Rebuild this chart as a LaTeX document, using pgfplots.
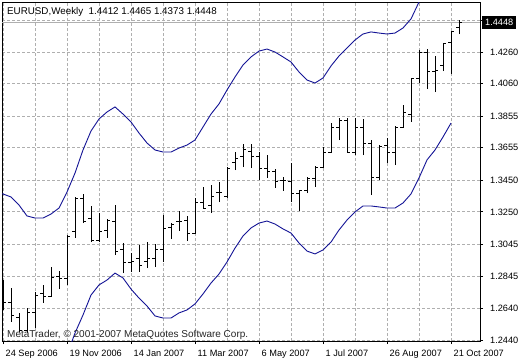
\documentclass[border=0pt]{standalone}
\usepackage{pgfplots}
\pgfplotsset{compat=1.18}
\usepackage{pgfplotstable}
\usepackage{fontspec}
\setmainfont{Liberation Sans}
\definecolor{band}{RGB}{20,20,150}
\definecolor{gridc}{RGB}{175,175,175}

\pgfplotstableread{
i O H L C
0 1.2756 1.2819 1.2630 1.2674
1 1.2680 1.2769 1.2554 1.2598
2 1.2585 1.2611 1.2491 1.2503
3 1.2503 1.2642 1.2484 1.2611
4 1.2611 1.2743 1.2516 1.2724
5 1.2731 1.2788 1.2674 1.2718
6 1.2718 1.2901 1.2712 1.2838
7 1.2844 1.2876 1.2762 1.2826
8 1.2826 1.3104 1.2788 1.3091
9 1.3123 1.3344 1.3085 1.3337
10 1.3337 1.3363 1.3179 1.3192
11 1.3211 1.3287 1.3059 1.3066
12 1.3072 1.3243 1.3059 1.3123
13 1.3135 1.3205 1.3085 1.3198
14 1.3186 1.3293 1.2977 1.3002
15 1.3009 1.3053 1.2863 1.2927
16 1.2927 1.2990 1.2870 1.2933
17 1.2958 1.3040 1.2870 1.2914
18 1.2933 1.3059 1.2895 1.2958
19 1.2958 1.3047 1.2901 1.3009
20 1.3015 1.3230 1.2933 1.3142
21 1.3154 1.3179 1.3078 1.3167
22 1.3186 1.3255 1.3129 1.3192
23 1.3198 1.3224 1.3066 1.3110
24 1.3110 1.3337 1.3110 1.3312
25 1.3312 1.3407 1.3268 1.3274
26 1.3287 1.3420 1.3243 1.3344
27 1.3375 1.3439 1.3312 1.3375
28 1.3344 1.3533 1.3337 1.3527
29 1.3559 1.3628 1.3514 1.3590
30 1.3597 1.3679 1.3533 1.3647
31 1.3634 1.3679 1.3527 1.3597
32 1.3597 1.3628 1.3451 1.3521
33 1.3521 1.3609 1.3464 1.3508
34 1.3508 1.3521 1.3401 1.3439
35 1.3445 1.3470 1.3382 1.3445
36 1.3439 1.3559 1.3312 1.3363
37 1.3363 1.3388 1.3255 1.3388
38 1.3388 1.3470 1.3369 1.3458
39 1.3458 1.3540 1.3407 1.3533
40 1.3533 1.3660 1.3527 1.3622
41 1.3622 1.3811 1.3622 1.3780
42 1.3780 1.3843 1.3704 1.3830
43 1.3830 1.3843 1.3622 1.3628
44 1.3622 1.3843 1.3609 1.3780
45 1.3780 1.3837 1.3609 1.3685
46 1.3685 1.3704 1.3356 1.3470
47 1.3470 1.3672 1.3451 1.3666
48 1.3672 1.3717 1.3559 1.3622
49 1.3622 1.3792 1.3546 1.3780
50 1.3780 1.3925 1.3780 1.3875
51 1.3868 1.4090 1.3818 1.4090
52 1.4090 1.4273 1.4064 1.4260
53 1.4260 1.4279 1.4026 1.4134
54 1.4134 1.4235 1.4007 1.4146
55 1.4172 1.4317 1.4140 1.4317
56 1.4323 1.4393 1.4121 1.4387
57 1.4412 1.4465 1.4373 1.4448
}\bars

\pgfplotstableread{
i up lo
-1 1.3375 1.2390
0 1.3363 1.2377
1 1.3344 1.2364
2 1.3293 1.2339
3 1.3224 1.2314
4 1.3211 1.2301
5 1.3211 1.2288
6 1.3236 1.2276
7 1.3274 1.2288
8 1.3375 1.2345
9 1.3495 1.2484
10 1.3641 1.2598
11 1.3761 1.2724
12 1.3837 1.2788
13 1.3881 1.2819
14 1.3913 1.2863
15 1.3868 1.2832
16 1.3818 1.2762
17 1.3748 1.2705
18 1.3685 1.2655
19 1.3641 1.2592
20 1.3628 1.2579
21 1.3628 1.2579
22 1.3653 1.2611
23 1.3672 1.2630
24 1.3704 1.2668
25 1.3786 1.2731
26 1.3868 1.2800
27 1.3932 1.2857
28 1.4020 1.2933
29 1.4102 1.3021
30 1.4178 1.3097
31 1.4229 1.3148
32 1.4266 1.3179
33 1.4279 1.3192
34 1.4260 1.3173
35 1.4229 1.3142
36 1.4197 1.3116
37 1.4134 1.3053
38 1.4083 1.3002
39 1.4064 1.2984
40 1.4096 1.3009
41 1.4172 1.3059
42 1.4235 1.3135
43 1.4285 1.3198
44 1.4336 1.3249
45 1.4374 1.3287
46 1.4387 1.3287
47 1.4380 1.3281
48 1.4374 1.3274
49 1.4380 1.3274
50 1.4412 1.3306
51 1.4469 1.3363
52 1.4576 1.3464
53 1.4665 1.3578
54 1.4740 1.3641
55 1.4804 1.3723
56 1.4861 1.3811
}\bands

\begin{document}
\begin{tikzpicture}[x=1pt,y=1pt]
\fill[white] (0,0) rectangle (520,360);
\useasboundingbox (0,0) rectangle (520,360);
\begin{axis}[
  at={(2pt,19pt)}, anchor=south west,
  scale only axis, width=478pt, height=339pt,
  xmin=-0.125, xmax=59.625, ymin=1.24337, ymax=1.457616,
  axis line style={black, line width=0.8pt},
  xtick={0,8,...,56}, minor xtick={4,12,...,52},
  xticklabels={24 Sep 2006, 19 Nov 2006, 14 Jan 2007, 11 Mar 2007, 6 May 2007, 1 Jul 2007, 26 Aug 2007, 21 Oct 2007},
  ytick={1.2440,1.2640,1.2845,1.3045,1.3250,1.3450,1.3655,1.3855,1.4060,1.4260,1.4460},
  yticklabels={1.2440,1.2640,1.2845,1.3045,1.3250,1.3450,1.3655,1.3855,1.4060,1.4260,{}},
  xtick pos=left, ytick pos=right, yticklabel pos=right,
  tick align=outside, major tick length=3pt, minor tick length=0pt,
  tick style={black, line width=0.8pt},
  xmajorgrids, xminorgrids, ymajorgrids,
  major grid style={gridc, dash pattern=on 3pt off 2pt, line width=0.8pt},
  minor grid style={gridc, dash pattern=on 3pt off 2pt, line width=0.8pt},
  ticklabel style={font=\fontsize{9.2}{10}\selectfont},
  xticklabel style={anchor=north west, inner sep=0pt, xshift=2.5pt, yshift=-6pt},
  yticklabel style={anchor=west, inner sep=0pt, xshift=7pt},
]
\addplot[gridc, line width=0.8pt, forget plot] coordinates {(-0.125,1.4448) (59.625,1.4448)};
\addplot[band, line width=0.9pt, mark=none] table[x=i, y=up]{\bands};
\addplot[band, line width=0.9pt, mark=none] table[x=i, y=lo]{\bands};
\addplot[draw=none, mark=none, error bars/.cd, y dir=plus, y explicit, error mark=none,
  error bar style={draw=black, solid, line width=1pt}]
  table[x=i, y=L, y error expr=\thisrow{H}-\thisrow{L}]{\bars};
\addplot[draw=none, mark=none, error bars/.cd, x dir=minus, x fixed=0.375, error mark=none,
  error bar style={draw=black, solid, line width=1pt}]
  table[x=i, y=O]{\bars};
\addplot[draw=none, mark=none, error bars/.cd, x dir=plus, x fixed=0.375, error mark=none,
  error bar style={draw=black, solid, line width=1pt}]
  table[x=i, y=C]{\bars};
\coordinate (pl) at (axis cs:59.625,1.4448);
\end{axis}
\node[fill=black, text=white, anchor=west, inner xsep=3pt, inner ysep=3pt, xshift=2pt, font=\fontsize{9.2}{10}\selectfont] at (pl) {1.4448};
\node[anchor=base west, inner sep=0pt, font=\fontsize{9.8}{11}\selectfont] at (7,345.5) {EURUSD,Weekly\ \ 1.4412 1.4465 1.4373 1.4448};
\node[anchor=base west, inner sep=0pt, text=black!85, font=\fontsize{10}{11}\selectfont] at (7,22.5) {MetaTrader, © 2001-2007 MetaQuotes Software Corp.};
\end{tikzpicture}
\end{document}
